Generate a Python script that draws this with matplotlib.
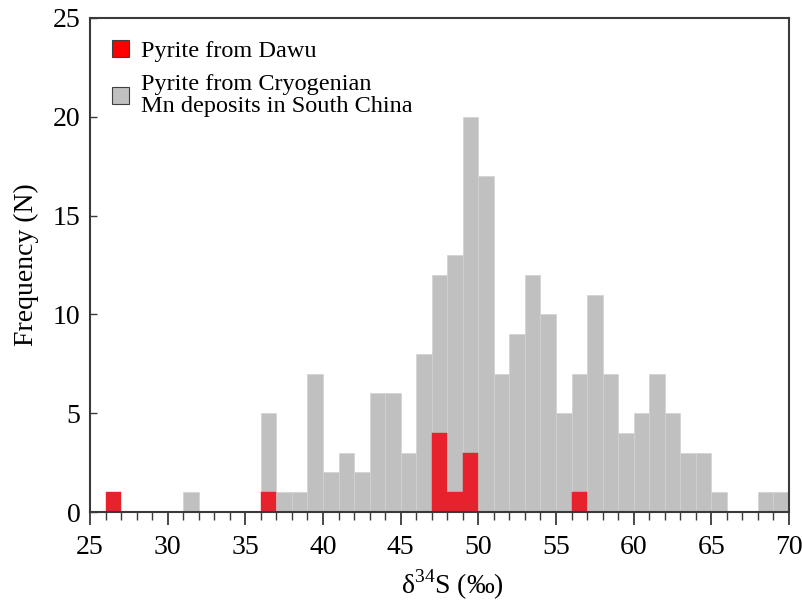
import matplotlib.pyplot as plt
from matplotlib.patches import Patch
from matplotlib.ticker import MultipleLocator

plt.rcParams['font.family'] = ['Liberation Serif', 'DejaVu Serif']
plt.rcParams['mathtext.fontset'] = 'custom'
plt.rcParams['mathtext.rm'] = 'Liberation Serif'

# bin left edges (width 1 permil) and counts
gray_bins = [31, 36, 37, 38, 39, 40, 41, 42, 43, 44, 45, 46, 47, 48, 49, 50,
             51, 52, 53, 54, 55, 56, 57, 58, 59, 60, 61, 62, 63, 64, 65, 68, 69]
gray_counts = [1, 5, 1, 1, 7, 2, 3, 2, 6, 6, 3, 8, 12, 13, 20, 17,
               7, 9, 12, 10, 5, 7, 11, 7, 4, 5, 7, 5, 3, 3, 1, 1, 1]
red_bins = [26, 36, 47, 48, 49, 56]
red_counts = [1, 1, 4, 1, 3, 1]

x_ticks = [25, 30, 35, 40, 45, 50, 55, 60, 65, 70]
y_ticks = [0, 5, 10, 15, 20, 25]

fig = plt.figure(figsize=(8.02, 6.04), dpi=100)
ax = fig.add_axes([0.1122, 0.1523, 0.8716, 0.8179])

ax.bar(gray_bins, gray_counts, width=1, align='edge', color='#c0c0c0',
       edgecolor='#d2d2d2', linewidth=0.5, zorder=2)
ax.bar(red_bins, red_counts, width=1, align='edge', color='#e8222c',
       edgecolor='#e8222c', linewidth=0.3, zorder=3)

ax.set_xlim(25, 70)
ax.set_ylim(0, 25)
ax.set_xticks(x_ticks)
ax.set_yticks(y_ticks)
ax.xaxis.set_minor_locator(MultipleLocator(1))

for s in ax.spines.values():
    s.set_color('#3a3a3a')
    s.set_linewidth(1.5)
    s.set_zorder(4)

ax.tick_params(axis='x', which='major', direction='out', length=9.5,
               width=1.3, color='#3a3a3a', labelsize=20, pad=7)
ax.tick_params(axis='x', which='minor', direction='out', length=5.5,
               width=1.0, color='#3a3a3a')
ax.tick_params(axis='y', which='major', direction='in', length=5,
               width=1.0, color='#3a3a3a', labelsize=20, pad=7)

ax.set_xlabel(r'δ$^{34}$S (‰)', fontsize=20)
ax.set_ylabel('Frequency (N)', fontsize=20, labelpad=10)
ax.xaxis.set_label_coords(0.518, -0.112)

handles = [Patch(facecolor='#ff0000', edgecolor='#404040', linewidth=0.8),
           Patch(facecolor='#c0c0c0', edgecolor='#404040', linewidth=0.8)]
labels = ['Pyrite from Dawu', 'Pyrite from Cryogenian\nMn deposits in South China']
leg = ax.legend(handles, labels, loc='upper left', bbox_to_anchor=(0.018, 0.975),
                frameon=False, fontsize=17.5, handlelength=0.7, handleheight=0.7,
                handletextpad=0.5, labelspacing=0.5, borderaxespad=0)
for t in leg.get_texts():
    t.set_linespacing(1.05)

fig.savefig('out.png', dpi=100)
